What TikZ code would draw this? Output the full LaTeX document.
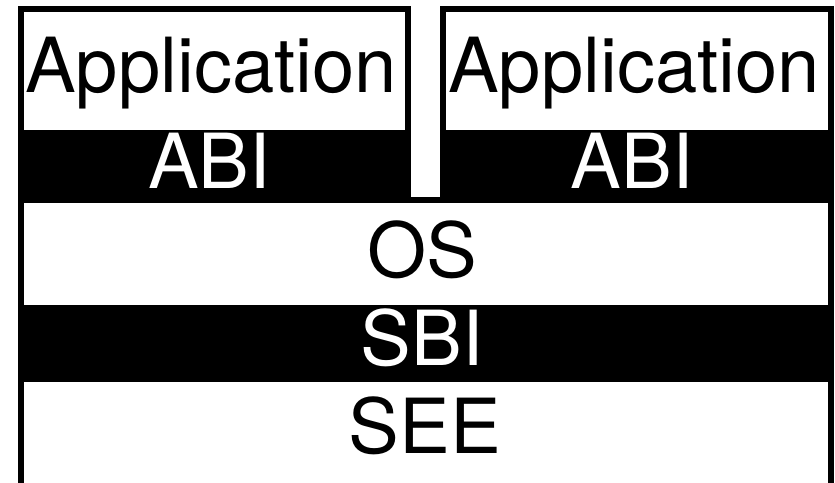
\documentclass[tikz,border=0pt]{standalone}
\usepackage{fontspec}
\setmainfont{TeX Gyre Heros}
\begin{document}
\begin{tikzpicture}[x=1pt,y=-1pt,
  frame/.style={draw=black, line width=6pt},
  band/.style={fill=black, draw=none},
  lbl/.style={font=\fontsize{76}{82}\selectfont, anchor=base, inner sep=0pt},
  wlbl/.style={lbl, text=white}]
\useasboundingbox (0,0) rectangle (835,482);
\clip (0,0) rectangle (835,482);
% black bands
\fill[band] (21,130) rectangle (408,200);
\fill[band] (443,130) rectangle (831,200);
\fill[band] (21,305) rectangle (831,382);
% frames
\draw[frame] (21,9) rectangle (408,200);
\draw[frame] (443,9) rectangle (831,200);
\draw[frame] (21,200) rectangle (831,520);
% labels
\node[lbl] (app1) at (211,92) {Application};
\node[lbl] (app2) at (634,92) {Application};
\node[wlbl] (abi1) at (209.5,188) {ABI};
\node[wlbl] (abi2) at (632,188) {ABI};
\node[lbl] (os) at (422.5,277) {OS};
\node[wlbl] (sbi) at (422,365) {SBI};
\node[lbl] (see) at (425,453) {SEE};
\end{tikzpicture}
\end{document}
